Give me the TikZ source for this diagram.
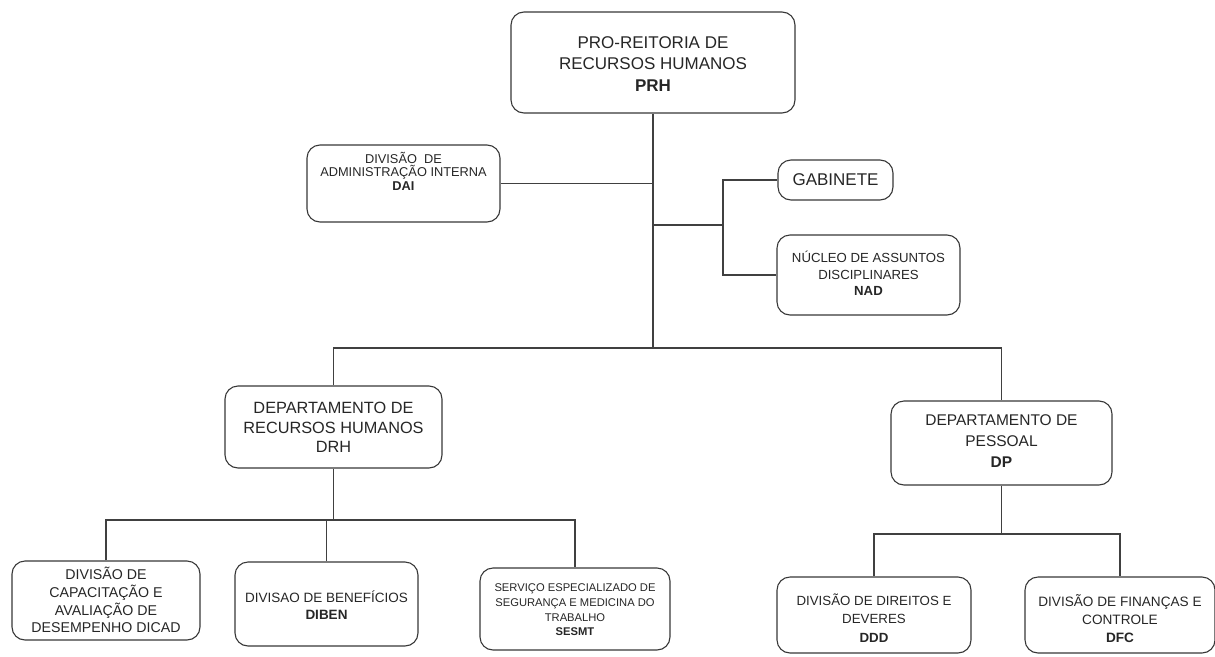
\documentclass[tikz,border=0pt]{standalone}
\usepackage{fontspec}
\setmainfont{Liberation Sans}
\begin{document}
\begin{tikzpicture}[x=1pt,y=-1pt,
  box/.style={draw=black!78, line width=1.1pt, rounded corners=13pt, inner sep=0pt},
  txt/.style={align=center, text=black!85, inner sep=0pt},
  wire/.style={draw=black!75, line width=1.1pt}]
\useasboundingbox (0,0) rectangle (1215,656);
% boxes
\node[box, minimum width=284pt, minimum height=101pt] (prh) at (653,62.5) {};
\node[box, minimum width=193pt, minimum height=77pt] (dai) at (403.5,183.5) {};
\node[box, minimum width=115pt, minimum height=40pt] (gab) at (835.5,180) {};
\node[box, minimum width=183pt, minimum height=80pt] (nad) at (868.5,275) {};
\node[box, minimum width=217pt, minimum height=82pt] (drh) at (333.5,427) {};
\node[box, minimum width=221pt, minimum height=84pt] (dp) at (1001.5,443) {};
\node[box, minimum width=188pt, minimum height=79pt] (dicad) at (106,600.5) {};
\node[box, minimum width=183pt, minimum height=84pt] (diben) at (326.5,604) {};
\node[box, minimum width=190pt, minimum height=82pt] (sesmt) at (575,609) {};
\node[box, minimum width=194pt, minimum height=76pt] (ddd) at (874,615) {};
\node[box, minimum width=190pt, minimum height=76pt] (dfc) at (1120,615) {};
% texts
\node[txt, font=\fontsize{17}{21.5}\selectfont] (tprh) at (653,64) {PRO-REITORIA DE\\RECURSOS HUMANOS\\\textbf{PRH}};
\node[txt, font=\fontsize{12.8}{13.6}\selectfont] (tdai) at (403.5,171) {DIVISÃO\ \ DE\\ADMINISTRAÇÃO INTERNA\\\textbf{DAI}};
\node[txt, font=\fontsize{17}{20}\selectfont] (tgab) at (835.5,180) {GABINETE};
\node[txt, font=\fontsize{13.2}{16.5}\selectfont] (tnad) at (868.5,273.5) {NÚCLEO DE ASSUNTOS\\DISCIPLINARES\\\textbf{NAD}};
\node[txt, font=\fontsize{16.3}{19.5}\selectfont] (tdrh) at (333.5,427.5) {DEPARTAMENTO DE\\RECURSOS HUMANOS\\DRH};
\node[txt, font=\fontsize{15.5}{21}\selectfont] (tdp) at (1001.5,441) {DEPARTAMENTO DE\\PESSOAL\\\textbf{DP}};
\node[txt, font=\fontsize{14.2}{17.7}\selectfont] (tdicad) at (106,600) {DIVISÃO DE\\CAPACITAÇÃO E\\AVALIAÇÃO DE\\DESEMPENHO DICAD};
\node[txt, font=\fontsize{13.5}{17}\selectfont] (tdiben) at (326.5,605.5) {DIVISAO DE BENEFÍCIOS\\\textbf{DIBEN}};
\node[txt, font=\fontsize{11.2}{14.7}\selectfont] (tsesmt) at (575,610) {SERVIÇO ESPECIALIZADO DE\\SEGURANÇA E MEDICINA DO\\TRABALHO\\\textbf{SESMT}};
\node[txt, font=\fontsize{13.3}{18.5}\selectfont] (tddd) at (874,618) {DIVISÃO DE DIREITOS E\\DEVERES\\\textbf{DDD}};
\node[txt, font=\fontsize{13.6}{18}\selectfont] (tdfc) at (1120,619) {DIVISÃO DE FINANÇAS E\\CONTROLE\\\textbf{DFC}};
% junction coordinates
\coordinate (bus) at (0,348);
\coordinate (bracket) at (723,0);
\coordinate (lbus) at (0,520);
\coordinate (rbus) at (0,534);
% connectors
\draw[wire] (prh.south) -- (prh.south |- bus);
\draw[wire] (dai.east) -- (dai.east -| prh.south);
\draw[wire] (prh.south |- 0,225) -- (bracket |- 0,225);
\draw[wire] (gab.west) -| (bracket |- nad.west) -- (nad.west);
\draw[wire] (drh.north) -- (drh.north |- bus) -- (dp.north |- bus) -- (dp.north);
\draw[wire] (drh.south) -- (drh.south |- lbus);
\draw[wire] (dicad.north) -- (dicad.north |- lbus) -- (sesmt.north |- lbus) -- (sesmt.north);
\draw[wire] (diben.north) -- (diben.north |- lbus);
\draw[wire] (dp.south) -- (dp.south |- rbus);
\draw[wire] (ddd.north) -- (ddd.north |- rbus) -- (dfc.north |- rbus) -- (dfc.north);
\end{tikzpicture}
\end{document}
